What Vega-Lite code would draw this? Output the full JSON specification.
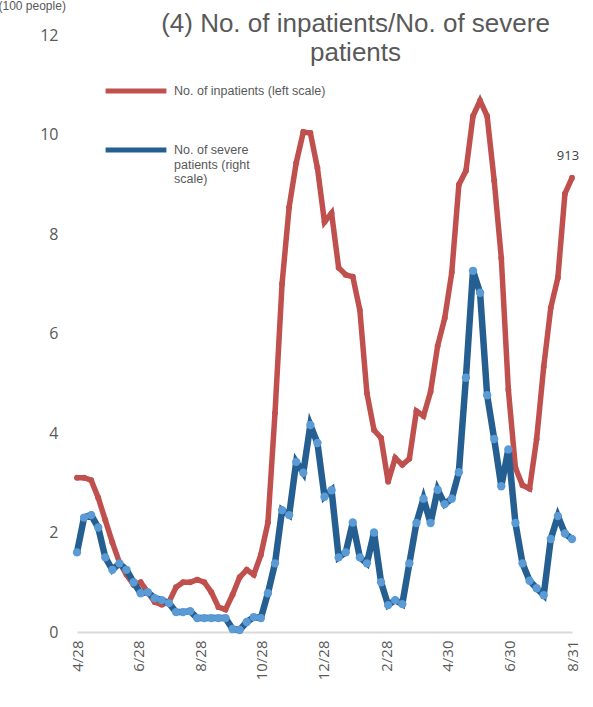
{
  "$schema": "https://vega.github.io/schema/vega-lite/v6.json",
  "width": 495,
  "height": 597,
  "autosize": {"type": "none"},
  "padding": {"left": 77, "top": 35, "right": 21, "bottom": 75},
  "background": "white",
  "config": {"view": {"stroke": null}, "font": "Liberation Sans"},
  "title": {
    "text": ["(4) No. of inpatients/No. of severe", "patients"],
    "fontSize": 26,
    "font": "Liberation Sans",
    "fontWeight": "normal",
    "color": "#595959",
    "anchor": "middle",
    "frame": "group",
    "baseline": "top",
    "lineHeight": 29,
    "offset": 0,
    "dx": 31,
    "dy": 67
  },
  "data": {
    "values": [
      {"date": "2020/04/28", "inpatients": 3.1, "severe": 1.6},
      {"date": "2020/05/05", "inpatients": 3.1, "severe": 2.3},
      {"date": "2020/05/12", "inpatients": 3.05, "severe": 2.35},
      {"date": "2020/05/19", "inpatients": 2.7, "severe": 2.1},
      {"date": "2020/05/26", "inpatients": 2.25, "severe": 1.5},
      {"date": "2020/06/02", "inpatients": 1.8, "severe": 1.25},
      {"date": "2020/06/09", "inpatients": 1.4, "severe": 1.38},
      {"date": "2020/06/16", "inpatients": 1.15, "severe": 1.25},
      {"date": "2020/06/23", "inpatients": 0.95, "severe": 1.0},
      {"date": "2020/06/30", "inpatients": 1.0, "severe": 0.78},
      {"date": "2020/07/07", "inpatients": 0.8, "severe": 0.8},
      {"date": "2020/07/14", "inpatients": 0.6, "severe": 0.68},
      {"date": "2020/07/21", "inpatients": 0.55, "severe": 0.64},
      {"date": "2020/07/28", "inpatients": 0.6, "severe": 0.58},
      {"date": "2020/08/04", "inpatients": 0.9, "severe": 0.4},
      {"date": "2020/08/11", "inpatients": 1.0, "severe": 0.4},
      {"date": "2020/08/18", "inpatients": 1.0, "severe": 0.42},
      {"date": "2020/08/25", "inpatients": 1.05, "severe": 0.28},
      {"date": "2020/09/01", "inpatients": 1.0, "severe": 0.28},
      {"date": "2020/09/08", "inpatients": 0.8, "severe": 0.28},
      {"date": "2020/09/15", "inpatients": 0.5, "severe": 0.28},
      {"date": "2020/09/22", "inpatients": 0.45, "severe": 0.28},
      {"date": "2020/09/29", "inpatients": 0.75, "severe": 0.06},
      {"date": "2020/10/06", "inpatients": 1.1, "severe": 0.04},
      {"date": "2020/10/13", "inpatients": 1.25, "severe": 0.2},
      {"date": "2020/10/20", "inpatients": 1.15, "severe": 0.3},
      {"date": "2020/10/27", "inpatients": 1.55, "severe": 0.28},
      {"date": "2020/11/03", "inpatients": 2.2, "severe": 0.78},
      {"date": "2020/11/10", "inpatients": 4.4, "severe": 1.38},
      {"date": "2020/11/17", "inpatients": 7.0, "severe": 2.45},
      {"date": "2020/11/24", "inpatients": 8.54, "severe": 2.35},
      {"date": "2020/12/01", "inpatients": 9.43, "severe": 3.42},
      {"date": "2020/12/08", "inpatients": 10.05, "severe": 3.2},
      {"date": "2020/12/15", "inpatients": 10.03, "severe": 4.16},
      {"date": "2020/12/22", "inpatients": 9.33, "severe": 3.8},
      {"date": "2020/12/29", "inpatients": 8.24, "severe": 2.72},
      {"date": "2021/01/05", "inpatients": 8.42, "severe": 2.85},
      {"date": "2021/01/12", "inpatients": 7.32, "severe": 1.5},
      {"date": "2021/01/19", "inpatients": 7.18, "severe": 1.6},
      {"date": "2021/01/26", "inpatients": 7.14, "severe": 2.2},
      {"date": "2021/02/02", "inpatients": 6.47, "severe": 1.5},
      {"date": "2021/02/09", "inpatients": 4.8, "severe": 1.38},
      {"date": "2021/02/16", "inpatients": 4.06, "severe": 2.0},
      {"date": "2021/02/23", "inpatients": 3.9, "severe": 1.0},
      {"date": "2021/03/02", "inpatients": 3.02, "severe": 0.54},
      {"date": "2021/03/09", "inpatients": 3.5, "severe": 0.64},
      {"date": "2021/03/16", "inpatients": 3.36, "severe": 0.56},
      {"date": "2021/03/23", "inpatients": 3.48, "severe": 1.38},
      {"date": "2021/03/30", "inpatients": 4.44, "severe": 2.19},
      {"date": "2021/04/06", "inpatients": 4.34, "severe": 2.68},
      {"date": "2021/04/13", "inpatients": 4.83, "severe": 2.19},
      {"date": "2021/04/20", "inpatients": 5.75, "severe": 2.86},
      {"date": "2021/04/27", "inpatients": 6.31, "severe": 2.57},
      {"date": "2021/05/04", "inpatients": 7.23, "severe": 2.68},
      {"date": "2021/05/11", "inpatients": 8.99, "severe": 3.21},
      {"date": "2021/05/18", "inpatients": 9.27, "severe": 5.11},
      {"date": "2021/05/25", "inpatients": 10.37, "severe": 7.26},
      {"date": "2021/06/01", "inpatients": 10.68, "severe": 6.82},
      {"date": "2021/06/08", "inpatients": 10.37, "severe": 4.76},
      {"date": "2021/06/15", "inpatients": 9.07, "severe": 3.88},
      {"date": "2021/06/22", "inpatients": 7.52, "severe": 2.93},
      {"date": "2021/06/29", "inpatients": 4.87, "severe": 3.67},
      {"date": "2021/07/06", "inpatients": 3.3, "severe": 2.19},
      {"date": "2021/07/13", "inpatients": 2.95, "severe": 1.38},
      {"date": "2021/07/20", "inpatients": 2.88, "severe": 1.03},
      {"date": "2021/07/27", "inpatients": 3.88, "severe": 0.88},
      {"date": "2021/08/03", "inpatients": 5.33, "severe": 0.74},
      {"date": "2021/08/10", "inpatients": 6.52, "severe": 1.87},
      {"date": "2021/08/17", "inpatients": 7.12, "severe": 2.33},
      {"date": "2021/08/24", "inpatients": 8.81, "severe": 1.98},
      {"date": "2021/08/31", "inpatients": 9.13, "severe": 1.87, "label": "913"}
    ]
  },
  "transform": [
    {"fold": ["inpatients", "severe"], "as": ["series", "value"]}
  ],
  "encoding": {
    "x": {
      "field": "date",
      "type": "temporal",
      "scale": {"nice": false, "padding": 0},
      "axis": {
        "values": [
          {"year": 2020, "month": 4, "date": 28},
          {"year": 2020, "month": 6, "date": 28},
          {"year": 2020, "month": 8, "date": 28},
          {"year": 2020, "month": 10, "date": 28},
          {"year": 2020, "month": 12, "date": 28},
          {"year": 2021, "month": 2, "date": 28},
          {"year": 2021, "month": 4, "date": 30},
          {"year": 2021, "month": 6, "date": 30},
          {"year": 2021, "month": 8, "date": 31}
        ],
        "format": "%-m/%-d",
        "labelAngle": -90,
        "labelFont": "Open Sans",
        "labelFontSize": 15,
        "labelColor": "#595959",
        "labelPadding": 8,
        "ticks": false,
        "grid": false,
        "domain": true,
        "domainColor": "#D9D9D9",
        "domainWidth": 2,
        "labelOverlap": false,
        "title": null
      }
    },
    "y": {
      "field": "value",
      "type": "quantitative",
      "scale": {"domain": [0, 12], "nice": false},
      "axis": {
        "values": [0, 2, 4, 6, 8, 10, 12],
        "labelFont": "Open Sans",
        "labelFontSize": 16,
        "labelColor": "#595959",
        "labelPadding": 19,
        "domain": false,
        "ticks": false,
        "grid": false,
        "title": "(100 people)",
        "titleAngle": 0,
        "titleAlign": "left",
        "titleBaseline": "middle",
        "titleX": -79,
        "titleY": -30,
        "titleFont": "Liberation Sans",
        "titleFontSize": 12,
        "titleFontWeight": "normal",
        "titleColor": "#595959"
      }
    }
  },
  "layer": [
    {
      "transform": [{"filter": "datum.series == 'inpatients'"}],
      "mark": {"type": "line", "strokeWidth": 5.5},
      "encoding": {
        "color": {
          "field": "series",
          "type": "nominal",
          "scale": {"domain": ["inpatients", "severe"], "range": ["#C0504D", "#255E91"]},
          "legend": {
            "orient": "none",
            "legendX": 26,
            "legendY": 23,
            "title": null,
            "padding": 0,
            "symbolType": "stroke",
            "symbolSize": 3700,
            "symbolStrokeWidth": 5,
            "labelFont": "Liberation Sans",
            "labelFontSize": 12.5,
            "labelColor": "#595959",
            "labelOffset": 5,
            "labelLimit": 400,
            "rowPadding": 16,
            "labelExpr": "datum.value == 'inpatients' ? 'No. of inpatients (left scale)' : ['No. of severe', 'patients (right', 'scale)']"
          }
        }
      }
    },
    {
      "transform": [{"filter": "datum.series == 'inpatients'"}],
      "mark": {"type": "point", "filled": true, "size": 35, "color": "#C0504D", "opacity": 1}
    },
    {
      "transform": [{"filter": "datum.series == 'severe'"}],
      "mark": {"type": "line", "strokeWidth": 6.5},
      "encoding": {
        "color": {"field": "series", "type": "nominal"}
      }
    },
    {
      "transform": [{"filter": "datum.series == 'severe'"}],
      "mark": {"type": "point", "filled": true, "size": 70, "color": "#5B9BD5", "opacity": 1}
    },
    {
      "transform": [{"filter": "datum.series == 'inpatients' && datum.label"}],
      "mark": {"type": "text", "dy": -22, "dx": -4, "fontSize": 13, "font": "Open Sans", "color": "#404040"},
      "encoding": {"text": {"field": "label"}}
    }
  ]
}
